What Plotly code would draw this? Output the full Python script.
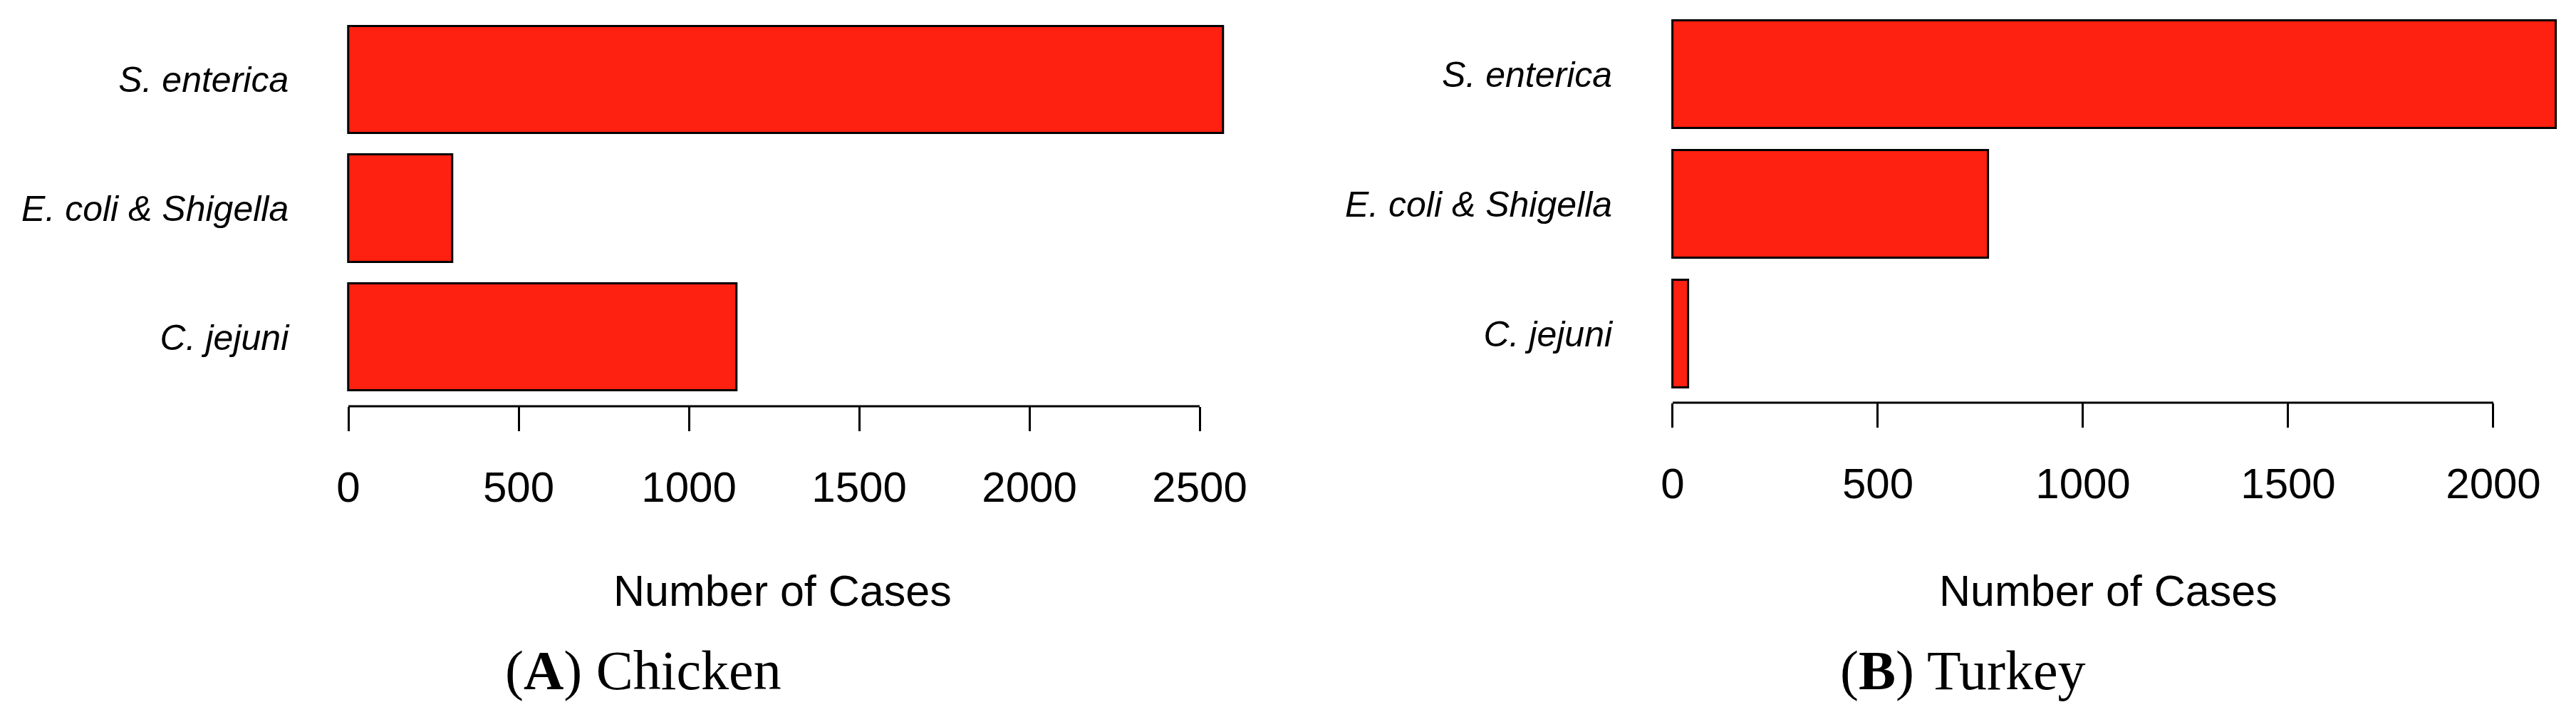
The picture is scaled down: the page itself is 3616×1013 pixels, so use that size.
import plotly.graph_objects as go

# ---- data ----
categories = ["C. jejuni", "E. coli & Shigella", "S. enterica"]  # bottom -> top
chicken_cases = [1140, 305, 2570]
turkey_cases = [38, 769, 2153]
chicken_ticks = [0, 500, 1000, 1500, 2000, 2500]
turkey_ticks = [0, 500, 1000, 1500, 2000]
axis_title = "Number of Cases"
captions = ["(<b>A</b>) Chicken", "(<b>B</b>) Turkey"]

# page is 3616x1013; the html body has an 8px margin, so the figure is 16px smaller
OFF = 8
W, H = 3616 - 2 * OFF, 1013 - 2 * OFF
BAR = "#FE2010"
SANS = "Liberation Sans, Arial, Helvetica, sans-serif"
SERIF = "Liberation Serif, Times New Roman, serif"


def px(xp):
    return min(1.0, max(0.0, (xp - OFF) / W))


def py(yp):
    return min(1.0, max(0.0, 1 - (yp - OFF) / H))


fig = go.Figure()

fig.add_trace(go.Bar(y=categories, x=chicken_cases, orientation="h", width=1/1.2,
                     marker=dict(color=BAR, line=dict(color="black", width=3)),
                     xaxis="x", yaxis="y", showlegend=False))
fig.add_trace(go.Bar(y=categories, x=turkey_cases, orientation="h", width=1/1.2,
                     marker=dict(color=BAR, line=dict(color="black", width=3)),
                     xaxis="x2", yaxis="y2", showlegend=False))


def xdom(px0, ppu, lo, hi):
    return [px(px0 + lo * ppu), px(px0 + hi * ppu)]


xa_common = dict(showgrid=False, zeroline=False, showline=False, ticks="outside",
                 ticklen=34, tickwidth=3, tickcolor="black", automargin=False,
                 tickfont=dict(family=SANS, size=60, color="black"),
                 ticklabelstandoff=27)
ya_common = dict(showgrid=False, zeroline=False, showline=False, ticks="", automargin=False,
                 type="category", categoryorder="array", categoryarray=categories,
                 tickfont=dict(family=SANS, size=50, color="black", style="italic"),
                 ticklabelstandoff=77)

fig.update_layout(
    width=W, height=H,
    margin=dict(l=0, r=0, t=0, b=0),
    paper_bgcolor="white", plot_bgcolor="white",
    bargap=0,
    xaxis=dict(xa_common, domain=xdom(489, 0.478, -12, 2600), range=[-12, 2600],
               tickvals=chicken_ticks, anchor="y"),
    yaxis=dict(ya_common, domain=[py(570), py(15)], range=[-0.536, 2.536], anchor="x"),
    xaxis2=dict(xa_common, domain=xdom(2348, 0.576, -12, 2185), range=[-12, 2185],
                tickvals=turkey_ticks, anchor="y2"),
    yaxis2=dict(ya_common, domain=[py(565), py(8)], range=[-0.53, 2.53], anchor="x2"),
)

# axis baseline spanning first to last tick (R style)
fig.add_shape(type="line", xref="x", yref="y domain", x0=chicken_ticks[0], x1=chicken_ticks[-1],
              y0=0, y1=0, line=dict(color="black", width=3))
fig.add_shape(type="line", xref="x2", yref="y2 domain", x0=turkey_ticks[0], x1=turkey_ticks[-1],
              y0=0, y1=0, line=dict(color="black", width=3))

# axis titles
for cx in [1098, 2959]:
    fig.add_annotation(text=axis_title, xref="paper", yref="paper", x=px(cx), y=py(829),
                       xanchor="center", yanchor="middle", showarrow=False,
                       font=dict(family=SANS, size=61, color="black"))

# panel captions
for cx, txt in zip([903, 2755], captions):
    fig.add_annotation(text=txt, xref="paper", yref="paper", x=px(cx), y=py(940),
                       xanchor="center", yanchor="middle", showarrow=False,
                       font=dict(family=SERIF, size=78, color="black"))

fig.write_html("out.html")
